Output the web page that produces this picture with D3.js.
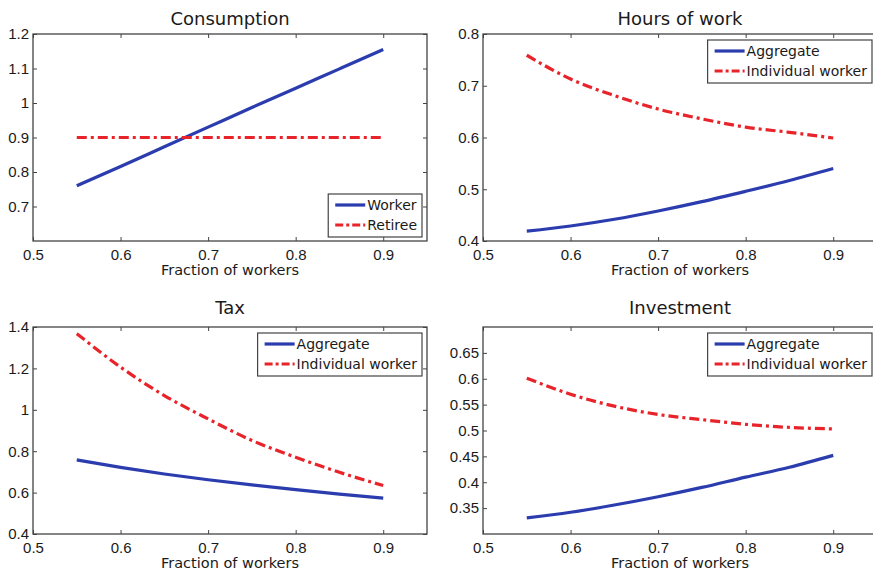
<!DOCTYPE html>
<html>
<head>
<meta charset="utf-8">
<script src="https://cdn.jsdelivr.net/npm/d3@7"></script>
<style>
    body { margin: 0; background: #fff; }
    svg { display: block; font-family: "DejaVu Sans", sans-serif; }
    .frame { fill: none; stroke: #444; stroke-width: 1.3; }
    .tick line { stroke: #444; }
    .tick text { fill: #1a1a1a; font-size: 15px; }
    .domain { display: none; }
</style>
</head>
<body>
<svg id="chart"></svg>
<script>
// Shared x values (fraction of workers)
const fractions = [0.55, 0.6, 0.65, 0.7, 0.75, 0.8, 0.85, 0.9];
const xTicks = [0.5, 0.6, 0.7, 0.8, 0.9];

// Consumption
const consWorker  = [0.760, 0.816, 0.873, 0.930, 0.987, 1.043, 1.099, 1.155];
const consRetiree = [0.900, 0.900, 0.900, 0.900, 0.900, 0.900, 0.900, 0.900];

// Hours of work
const hoursAggregate  = [0.419, 0.429, 0.442, 0.458, 0.476, 0.496, 0.517, 0.540];
const hoursIndividual = [0.759, 0.713, 0.681, 0.655, 0.636, 0.620, 0.610, 0.599];

// Tax
const taxAggregate  = [0.758, 0.722, 0.690, 0.662, 0.637, 0.614, 0.593, 0.573];
const taxIndividual = [1.368, 1.206, 1.069, 0.956, 0.852, 0.771, 0.698, 0.634];

// Investment
const invAggregate  = [0.331, 0.342, 0.356, 0.372, 0.390, 0.410, 0.429, 0.452];
const invIndividual = [0.601, 0.570, 0.547, 0.531, 0.521, 0.512, 0.506, 0.503];

const blue = "#2b3cae";
const red = "#e8232a";

const width = 873, height = 571;
const svg = d3.select("#chart").attr("width", width).attr("height", height);

// One entry per subplot
const panels = [
    { title: "Consumption", left: 33, top: 34, yDomain: [0.6, 1.2], yTicks: [0.7, 0.8, 0.9, 1, 1.1, 1.2],
      series: [{ name: "Worker", values: consWorker, color: blue },
               { name: "Retiree", values: consRetiree, color: red, dash: true }],
      legend: "se" },
    { title: "Hours of work", left: 483, top: 34, yDomain: [0.4, 0.8], yTicks: [0.4, 0.5, 0.6, 0.7, 0.8],
      series: [{ name: "Aggregate", values: hoursAggregate, color: blue },
               { name: "Individual worker", values: hoursIndividual, color: red, dash: true }],
      legend: "ne" },
    { title: "Tax", left: 33, top: 327, yDomain: [0.4, 1.4], yTicks: [0.4, 0.6, 0.8, 1, 1.2, 1.4],
      series: [{ name: "Aggregate", values: taxAggregate, color: blue },
               { name: "Individual worker", values: taxIndividual, color: red, dash: true }],
      legend: "ne" },
    { title: "Investment", left: 483, top: 327, yDomain: [0.3, 0.7], yTicks: [0.35, 0.4, 0.45, 0.5, 0.55, 0.6, 0.65],
      series: [{ name: "Aggregate", values: invAggregate, color: blue },
               { name: "Individual worker", values: invIndividual, color: red, dash: true }],
      legend: "ne" }
];

const pw = 394, ph = 207;
const dashPattern = "10,4,3,4";

panels.forEach(p => {
    const g = svg.append("g").attr("transform", `translate(${p.left},${p.top})`);

    const x = d3.scaleLinear().domain([0.5, 0.95]).range([0, pw]);
    const y = d3.scaleLinear().domain(p.yDomain).range([ph, 0]);

    const fmt = d => String(+d.toFixed(2));

    // bottom axis with labels, inward ticks
    g.append("g").attr("transform", `translate(0,${ph})`)
        .call(d3.axisBottom(x).tickValues(xTicks).tickSize(-4).tickPadding(8).tickFormat(fmt));
    // top axis, ticks only
    g.append("g")
        .call(d3.axisTop(x).tickValues(xTicks).tickSize(-4).tickFormat(""));
    // left axis with labels
    g.append("g")
        .call(d3.axisLeft(y).tickValues(p.yTicks).tickSize(-4).tickPadding(4).tickFormat(fmt));
    // right axis, ticks only
    g.append("g").attr("transform", `translate(${pw},0)`)
        .call(d3.axisRight(y).tickValues(p.yTicks).tickSize(-4).tickFormat(""));

    g.append("rect").attr("class", "frame").attr("width", pw).attr("height", ph);

    // Lines
    const line = d3.line()
        .x((d, i) => x(fractions[i]))
        .y(d => y(d))
        .curve(d3.curveMonotoneX);

    p.series.forEach(s => {
        g.append("path")
            .datum(s.values)
            .attr("d", line)
            .attr("fill", "none")
            .attr("stroke", s.color)
            .attr("stroke-width", 3.2)
            .attr("stroke-dasharray", s.dash ? dashPattern : null);
    });

    // Title and x label
    g.append("text")
        .attr("x", pw / 2).attr("y", p.top < 100 ? -9 : -13)
        .attr("text-anchor", "middle")
        .style("font-size", "18px").style("fill", "#1a1a1a")
        .text(p.title);

    g.append("text")
        .attr("x", pw / 2).attr("y", ph + 34)
        .attr("text-anchor", "middle")
        .style("font-size", "14.5px").style("fill", "#1a1a1a")
        .text("Fraction of workers");

    // Legend
    const lg = g.append("g");
    const items = lg.selectAll("g").data(p.series).enter().append("g")
        .attr("transform", (d, i) => `translate(7,${11 + i * 20})`);
    items.append("line")
        .attr("x1", 0).attr("x2", 30)
        .attr("stroke", d => d.color)
        .attr("stroke-width", 3.2)
        .attr("stroke-dasharray", d => d.dash ? "8,3,3,3" : null);
    items.append("text")
        .attr("x", 32).attr("dy", "0.36em")
        .style("font-size", "14px").style("fill", "#1a1a1a")
        .text(d => d.name);

    const textW = d3.max(items.select("text").nodes(), n => n.getComputedTextLength());
    const bw = 7 + 32 + textW + 5, bh = 43;
    lg.insert("rect", ":first-child")
        .attr("width", bw).attr("height", bh)
        .attr("fill", "#fff").attr("stroke", "#444").attr("stroke-width", 1.2);

    if (p.legend === "ne") {
        lg.attr("transform", `translate(${pw - 5 - bw},6)`);
    } else {
        lg.attr("transform", `translate(${pw - 5 - bw},${ph - 4 - bh})`);
    }
});
</script>
</body>
</html>
